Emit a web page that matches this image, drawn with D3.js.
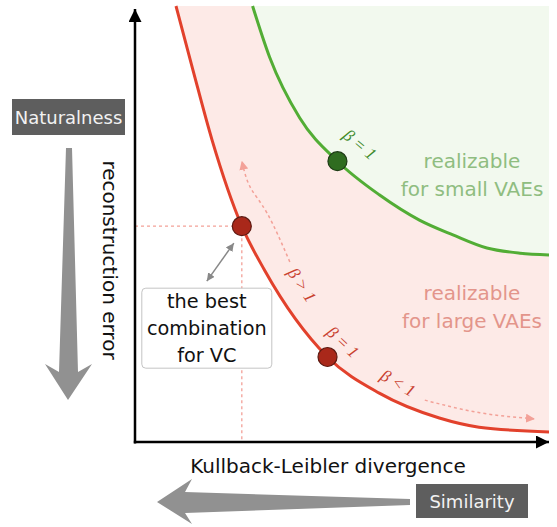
<html>
<head>
    <script src="https://d3js.org/d3.v7.min.js"></script>
    <style>
        body {
            margin: 0;
            background-color: white;
            font-family: "DejaVu Sans", Arial, sans-serif;
        }
    </style>
</head>
<body>
    <div id="chart"></div>
    <script>
        // KL divergence (x) vs reconstruction error (y), arbitrary units 0-100
        var largeKL  = [9.9, 14.0, 18.6, 25.8, 31.3, 46.5, 59.0, 73.5, 83.1, 100];
        var largeErr = [100, 85.3, 69.3, 49.5, 39.4, 19.5, 11.2, 5.5, 3.4, 2.3];
        var smallKL  = [28.4, 32.5, 39.8, 48.9, 59.0, 68.7, 76.8, 85.0, 93.0, 100];
        var smallErr = [100, 88.3, 74.3, 64.4, 56.7, 50.9, 47.5, 44.5, 43.3, 42.9];

        // beta = 1 points and the best combination
        var pointName = ["small", "best", "large"];
        var pointKL   = [48.9, 25.8, 46.5];
        var pointErr  = [64.4, 49.5, 19.5];

        var betaText  = ["β = 1", "β > 1", "β = 1", "β < 1"];
        var betaKL    = [54.3, 40.3, 50.2, 63.5];
        var betaErr   = [68.2, 36.0, 22.9, 13.5];
        var betaAngle = [40, 56, 43, 30];

        // dotted arrows along the large-VAE curve
        var upKL    = [37.4, 31.9, 27.8, 25.8];
        var upErr   = [41.3, 52.5, 58.5, 64.5];
        var downKL  = [70.0, 83.3, 96.6];
        var downErr = [9.6, 6.7, 5.3];

        var regionText = [["realizable", "for small VAEs"], ["realizable", "for large VAEs"]];
        var regionKL   = [81.4, 81.4];
        var regionErr  = [64.4, 34.2];

        var width = 557, height = 527;
        var red = "#e2412c", green = "#52ad35", dash = "#f3a198";

        var x = d3.scaleLinear().domain([0, 100]).range([135, 549]);
        var y = d3.scaleLinear().domain([0, 100]).range([442, 6]);

        var svg = d3.select("#chart").append("svg")
            .attr("width", width).attr("height", height);

        var defs = svg.append("defs");
        function marker(id, color, size, auto) {
            defs.append("marker")
                .attr("id", id)
                .attr("viewBox", "0 0 10 10")
                .attr("refX", 10).attr("refY", 5)
                .attr("markerUnits", "userSpaceOnUse")
                .attr("markerWidth", size).attr("markerHeight", size)
                .attr("orient", auto)
                .append("path")
                .attr("d", "M0,0L10,5L0,10z")
                .attr("fill", color);
        }
        marker("axisHead", "#000", 13, "auto");
        marker("dotHead", dash, 9, "auto");
        marker("grayHead", "#888", 8, "auto-start-reverse");

        function zip(a, b) { return a.map(function (d, i) { return [d, b[i]]; }); }
        var largeData = zip(largeKL, largeErr);
        var smallData = zip(smallKL, smallErr);

        var curve = d3.curveMonotoneX;
        var area = d3.area().curve(curve)
            .x(function (d) { return x(d[0]); })
            .y0(y(100))
            .y1(function (d) { return y(d[1]); });
        var line = d3.line().curve(curve)
            .x(function (d) { return x(d[0]); })
            .y(function (d) { return y(d[1]); });

        // regions
        svg.append("path").attr("d", area(largeData)).attr("fill", "#fdeae7");
        svg.append("path").attr("d", area(smallData)).attr("fill", "#f2f9ee");

        // guide lines from the best point
        var bx = x(pointKL[1]), by = y(pointErr[1]);
        svg.append("line")
            .attr("x1", x(0)).attr("y1", by).attr("x2", bx).attr("y2", by)
            .attr("stroke", dash).attr("stroke-width", 1.3).attr("stroke-dasharray", "3,3");
        svg.append("line")
            .attr("x1", bx).attr("y1", by).attr("x2", bx).attr("y2", y(0))
            .attr("stroke", dash).attr("stroke-width", 1.3).attr("stroke-dasharray", "3,3");

        // dotted beta arrows
        [zip(upKL, upErr), zip(downKL, downErr)].forEach(function (pts) {
            svg.append("path")
                .attr("d", d3.line().curve(d3.curveNatural)
                    .x(function (d) { return x(d[0]); })
                    .y(function (d) { return y(d[1]); })(pts))
                .attr("fill", "none")
                .attr("stroke", dash)
                .attr("stroke-width", 1.5)
                .attr("stroke-dasharray", "3,3")
                .attr("marker-end", "url(#dotHead)");
        });

        // curves
        svg.append("path").attr("d", line(largeData))
            .attr("fill", "none").attr("stroke", red).attr("stroke-width", 3);
        svg.append("path").attr("d", line(smallData))
            .attr("fill", "none").attr("stroke", green).attr("stroke-width", 3);

        // axes
        svg.append("line")
            .attr("x1", x(0)).attr("y1", y(0) + 1.5).attr("x2", x(0)).attr("y2", 9)
            .attr("stroke", "#000").attr("stroke-width", 2.5)
            .attr("marker-end", "url(#axisHead)");
        svg.append("line")
            .attr("x1", x(0) - 1.2).attr("y1", y(0)).attr("x2", 549).attr("y2", y(0))
            .attr("stroke", "#000").attr("stroke-width", 2.5)
            .attr("marker-end", "url(#axisHead)");

        // points
        svg.selectAll("circle.pt")
            .data(pointName)
            .enter().append("circle")
            .attr("class", "pt")
            .attr("cx", function (d, i) { return x(pointKL[i]); })
            .attr("cy", function (d, i) { return y(pointErr[i]); })
            .attr("r", 9.5)
            .attr("fill", function (d) { return d === "small" ? "#2f6c20" : "#a9281a"; })
            .attr("stroke", function (d) { return d === "small" ? "#1e3b16" : "#5c1a12"; })
            .attr("stroke-width", 1.2);

        // beta labels
        svg.selectAll("text.beta")
            .data(betaText)
            .enter().append("text")
            .attr("class", "beta")
            .attr("transform", function (d, i) {
                return "translate(" + x(betaKL[i]) + "," + y(betaErr[i]) + ") rotate(" + betaAngle[i] + ")";
            })
            .attr("text-anchor", "middle")
            .attr("dominant-baseline", "central")
            .attr("font-family", "'Liberation Serif', serif")
            .attr("font-style", "italic")
            .attr("font-size", 17)
            .attr("fill", function (d, i) { return i === 0 ? "#3e8a2a" : "#c9412f"; })
            .text(function (d) { return d; });

        // region labels
        regionText.forEach(function (lines, i) {
            var t = svg.append("text")
                .attr("text-anchor", "middle")
                .attr("font-size", 20)
                .attr("fill", i === 0 ? "#8fbd80" : "#e3958b");
            lines.forEach(function (s, j) {
                t.append("tspan")
                    .attr("x", x(regionKL[i]))
                    .attr("y", y(regionErr[i]) + 7 + j * 28)
                    .text(s);
            });
        });

        // callout box for the best combination
        var boxW = 130, boxH = 80, boxX = bx - 100, boxY = by + 62;
        svg.append("line")
            .attr("x1", boxX + 65).attr("y1", boxY - 7)
            .attr("x2", bx - 8).attr("y2", by + 17)
            .attr("stroke", "#888").attr("stroke-width", 1.5)
            .attr("marker-start", "url(#grayHead)")
            .attr("marker-end", "url(#grayHead)");
        svg.append("rect")
            .attr("x", boxX).attr("y", boxY).attr("width", boxW).attr("height", boxH)
            .attr("rx", 4).attr("fill", "white").attr("stroke", "#c4c4c4").attr("stroke-width", 1);
        ["the best", "combination", "for VC"].forEach(function (s, j) {
            svg.append("text")
                .attr("x", boxX + boxW / 2).attr("y", boxY + 13 + j * 27)
                .attr("text-anchor", "middle").attr("dominant-baseline", "central")
                .attr("font-size", 19.3).attr("fill", "#111")
                .text(s);
        });

        // axis titles
        svg.append("text")
            .attr("transform", "translate(110,260) rotate(90)")
            .attr("text-anchor", "middle").attr("dominant-baseline", "central")
            .attr("font-size", 20).attr("fill", "#111")
            .text("reconstruction error");
        svg.append("text")
            .attr("x", 328).attr("y", 466)
            .attr("text-anchor", "middle").attr("dominant-baseline", "central")
            .attr("font-size", 20).attr("fill", "#111")
            .text("Kullback-Leibler divergence");

        // big gray arrows
        svg.append("path")
            .attr("d", "M66,148L72,148L78,372L92,364L68,400L45,364L59,372Z")
            .attr("fill", "#919191");
        svg.append("path")
            .attr("d", "M410,499L410,505L185,513L192,524L157,502L192,479L185,492Z")
            .attr("fill", "#919191");

        // tag boxes
        [["Naturalness", 12, 99, 113, 36], ["Similarity", 416, 484, 112, 34]].forEach(function (b) {
            svg.append("rect")
                .attr("x", b[1]).attr("y", b[2]).attr("width", b[3]).attr("height", b[4])
                .attr("fill", "#5e5e5e");
            svg.append("text")
                .attr("x", b[1] + b[3] / 2).attr("y", b[2] + b[4] / 2)
                .attr("text-anchor", "middle").attr("dominant-baseline", "central")
                .attr("font-size", 18).attr("fill", "#f2f2f2")
                .text(b[0]);
        });
    </script>
</body>
</html>
